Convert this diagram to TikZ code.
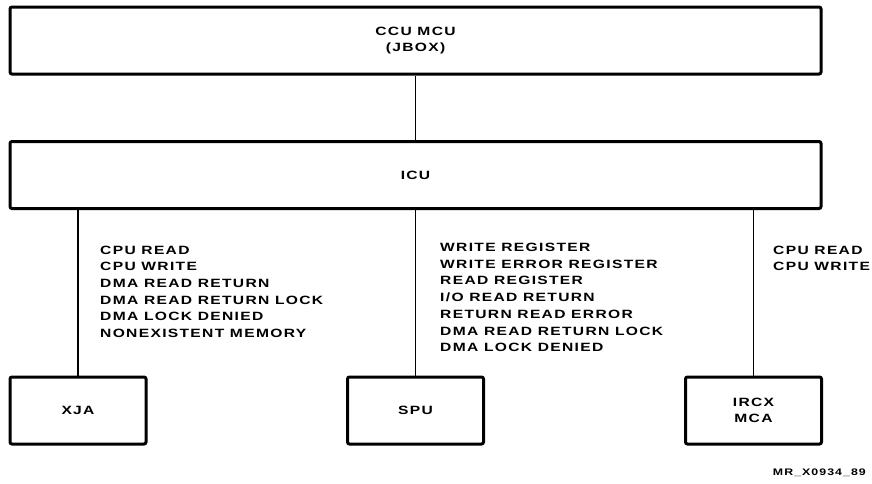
\documentclass[tikz,border=0pt]{standalone}
\usepackage{fontspec}
\newfontfamily\dgmfont{Liberation Sans Bold}[FakeStretch=1.3,LetterSpace=11]
\usetikzlibrary{positioning}

\begin{document}
\begin{tikzpicture}[
    x=1pt,y=-1pt,
    bigbox/.style={rectangle,draw,line width=3pt,rounded corners=2pt,minimum width=811pt,minimum height=67pt,align=center,font=\dgmfont\fontsize{12}{16}\selectfont},
    unitbox/.style={rectangle,draw,line width=3pt,rounded corners=2pt,minimum width=136pt,minimum height=67pt,align=center,font=\dgmfont\fontsize{12}{16}\selectfont},
    msglist/.style={anchor=north west,align=left,inner sep=0pt,font=\dgmfont\fontsize{12}{16.7}\selectfont},
    link/.style={line width=1.4pt}
]
    \useasboundingbox (0,0) rectangle (872,483);

    % Upper boxes
    \node[bigbox] (jbox) at (415.5,40.5) {CCU MCU\\(JBOX)};
    \node[bigbox] (icu) at (415.5,175) {ICU};
    \draw[link] (jbox) -- (icu);

    % Units
    \node[unitbox] (xja) at (78,410.5) {XJA};
    \node[unitbox] (spu) at (415.5,410.5) {SPU};
    \node[unitbox] (ircx) at (753.5,410.5) {IRCX\\MCA};
    \draw[link] (xja.north) -- (xja.north |- icu.south);
    \draw[link] (spu.north) -- (spu.north |- icu.south);
    \draw[link] (ircx.north) -- (ircx.north |- icu.south);

    % Transaction lists
    \node[msglist] (xjamsg) at (100,245.5) {CPU READ\\CPU WRITE\\DMA READ RETURN\\DMA READ RETURN LOCK\\DMA LOCK DENIED\\NONEXISTENT MEMORY};
    \node[msglist] (spumsg) at (440,243) {WRITE REGISTER\\WRITE ERROR REGISTER\\READ REGISTER\\I/O READ RETURN\\RETURN READ ERROR\\DMA READ RETURN LOCK\\DMA LOCK DENIED};
    \node[msglist] (ircxmsg) at (773,245.5) {CPU READ\\CPU WRITE};

    \node[anchor=east,inner sep=0pt,font=\dgmfont\fontsize{9.5}{11}\selectfont] (tag) at (866,473) {MR\_X0934\_89};
\end{tikzpicture}
\end{document}
